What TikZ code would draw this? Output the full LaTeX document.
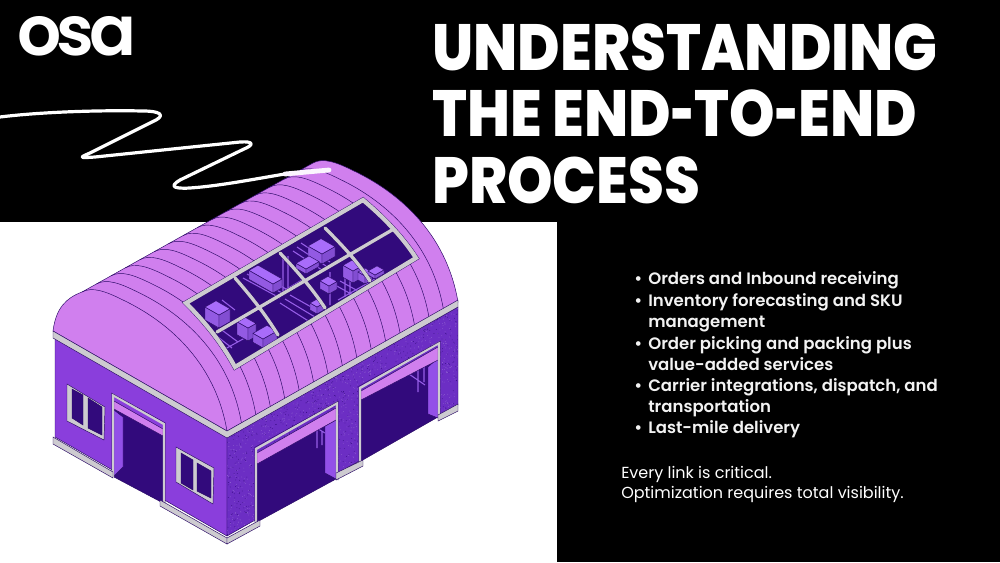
\documentclass[tikz,border=0pt]{standalone}
\usepackage{fontspec}
\usepackage{xcolor}
\setmainfont{Poppins}
\newfontfamily\titlefont{Poppins}[UprightFont=* ExtraBold, FakeStretch=0.886]
\newfontfamily\listfont{Poppins}[UprightFont=* SemiBold]
\newfontfamily\logofont{Poppins}[UprightFont=* SemiBold, LetterSpace=-7]
\definecolor{roofpink}{HTML}{D07FEE}
\definecolor{wallleft}{HTML}{8A3EDC}
\definecolor{wallright}{HTML}{6C2EC4}
\definecolor{inkdark}{HTML}{320A7C}
\definecolor{edgedark}{HTML}{2A0A66}
\definecolor{trimgrey}{HTML}{CDCBD0}
\definecolor{sidewall}{HTML}{9350E8}
\definecolor{crate}{HTML}{A86CFA}
\tikzset{
	outline/.style={draw=edgedark, line width=0.35pt},
	trim/.style={fill=trimgrey, outline},
	glass/.style={fill=inkdark, outline},
	awning/.style={fill=roofpink, outline},
	side/.style={fill=sidewall, outline},
	rafter/.style={draw=edgedark, line width=0.35pt},
	framebar/.style={draw=trimgrey, line width=3.2pt, line cap=round},
	rail/.style={draw=crate!85!inkdark, line width=0.8pt},
	listline/.style={anchor=base west, inner sep=0pt, text=white!95!black, font=\listfont\fontsize{12.4}{15}\selectfont},
	bodyline/.style={anchor=base west, inner sep=0pt, text=white, font=\fontsize{12}{14}\selectfont},
	titleline/.style={anchor=base west, inner sep=0pt, text=white, font=\titlefont\fontsize{49}{50}\selectfont}
}
% one box seen from above: corner, length, depth, height
\newcommand{\crateat}[5]{
	\filldraw [fill=crate!82!inkdark, outline] (#1,#2) -- ++(-#4,-0.57*#4) -- ++(0,-#5) -- ++(#4,0.57*#4) -- cycle;
	\filldraw [fill=crate!68!inkdark, outline] (#1,#2) -- ++(#3,-0.57*#3) -- ++(0,-#5) -- ++(-#3,0.57*#3) -- cycle;
	\filldraw [fill=crate, outline] (#1,#2-#5) -- ++(#3,-0.57*#3) -- ++(-#4,-0.57*#4) -- ++(-#3,0.57*#3) -- cycle;
}
\newcommand{\titlehyphen}{\scalebox{0.7}[1]{-}}
\begin{document}
\begin{tikzpicture}[x=0.75pt, y=-0.75pt]
	\useasboundingbox (0,0) rectangle (1000,562);
	\fill [black] (0,0) rectangle (1000,562);
	\fill [white] (0,222) rectangle (557,562);

	% walls
	\filldraw [fill=wallleft, outline] (55,338) -- (227,437) -- (227,536) -- (55,437) -- cycle;
	\filldraw [fill=wallright, outline] (227,437) -- (458,307) -- (458,405) -- (227,536) -- cycle;
	\begin{scope}
		\clip (227,437) -- (458,307) -- (458,405) -- (227,536) -- cycle;
		\pgfmathsetseed{2024}
		\foreach \n in {1,...,3200} {
			\pgfmathsetmacro{\dotx}{227+231*rnd}
			\pgfmathsetmacro{\doty}{300+240*rnd}
			\fill [wallright!72!white] (\dotx,\doty) circle (0.38);
		}
		\foreach \n in {1,...,1800} {
			\pgfmathsetmacro{\dotx}{227+231*rnd}
			\pgfmathsetmacro{\doty}{300+240*rnd}
			\fill [inkdark] (\dotx,\doty) circle (0.38);
		}
	\end{scope}

	% door on the left wall
	\filldraw [fill=inkdark, outline] (114,402) -- (163,430) -- (163,503) -- (114,477) -- cycle;
	\filldraw [side] (114,410) -- (123,417) -- (123,467) -- (114,476) -- cycle;
	\filldraw [awning] (114,401) -- (163,429) -- (163,436) -- (114,409) -- cycle;
	\draw [trimgrey, line width=1.8pt] (113,477) -- (113,395) -- (164,424) -- (164,503);
	\draw [edgedark, line width=0.3pt] (111.5,477) -- (111.5,393) -- (165.5,423) -- (165.5,503);

	% windows on the left wall
	\filldraw [trim] (67,384) -- (105,407) -- (104,440) -- (67,421) -- cycle;
	\filldraw [glass] (72,389) -- (83,395) -- (83,425) -- (72,418) -- cycle;
	\filldraw [glass] (88,398) -- (102,407) -- (102,435) -- (88,428) -- cycle;
	\filldraw [trim] (176,447) -- (214,468) -- (213,504) -- (176,482) -- cycle;
	\filldraw [glass] (181,453) -- (193,460) -- (193,490) -- (181,483) -- cycle;
	\filldraw [glass] (197,463) -- (211,471) -- (211,498) -- (197,491) -- cycle;

	% doors on the right wall
	\filldraw [fill=inkdark, outline] (257,463) -- (336,420) -- (336,479) -- (257,522) -- cycle;
	\draw [rail] (315,427) -- (325,433) (317,424) -- (317,448) (322,431) -- (322,445);
	\filldraw [side] (325,426) -- (336,420) -- (336,479) -- (325,473) -- cycle;
	\filldraw [awning] (257,453) -- (336,408) -- (336,420) -- (257,464) -- cycle;
	\draw [trimgrey, line width=1.8pt] (256,522) -- (256,449) -- (337,403) -- (337,480);
	\draw [edgedark, line width=0.3pt] (254.5,522) -- (254.5,447.5) -- (338.5,401) -- (338.5,480);

	\filldraw [fill=inkdark, outline] (361,398) -- (438,358) -- (438,417) -- (361,461) -- cycle;
	\draw [rail] (406,372) -- (425,385) (418,366) -- (418,392) (424,364) -- (424,382);
	\filldraw [side] (428,367) -- (438,358) -- (438,418) -- (428,414) -- cycle;
	\filldraw [awning] (361,391) -- (438,347) -- (438,360) -- (361,400) -- cycle;
	\draw [trimgrey, line width=1.8pt] (360,462) -- (360,388) -- (439,343) -- (439,418);
	\draw [edgedark, line width=0.3pt] (358.5,462) -- (358.5,386.5) -- (440.5,341) -- (440.5,418);

	% plinths
	\filldraw [trim] (53,437) -- (113,472) -- (113,478) -- (53,444) -- cycle;
	\filldraw [trim] (160,500) -- (227,538) -- (227,544) -- (160,506) -- cycle;
	\filldraw [trim] (227,538) -- (260,520) -- (260,526) -- (227,544) -- cycle;
	\filldraw [trim] (336,473) -- (363,460) -- (363,466) -- (336,480) -- cycle;
	\filldraw [trim] (438,415) -- (458,404) -- (458,411) -- (438,421) -- cycle;

	% roof
	\filldraw [fill=roofpink, outline] (53,331) .. controls (56,308) and (66,298) .. (82,292)
		-- (313,163) .. controls (323,157.5) and (336,162) .. (354,171)
		.. controls (396,191) and (446,231) .. (458,302)
		-- (227,431) -- (53,331) -- cycle;
	\foreach \i in {0,...,15} {
		\begin{scope}[shift={(14.4375*\i,-8.0625*\i)}]
			\draw [rafter] (82,292) .. controls (92,286.5) and (105,291) .. (123,300)
				.. controls (165,320) and (215,360) .. (227,431);
		\end{scope}
	}

	% skylight
	\filldraw [fill=inkdark] (186,303) -- (363,200) .. controls (382,216) and (402,236) .. (416,258)
		-- (235,367) .. controls (222,343) and (205,322) .. (186,303) -- cycle;
	\begin{scope}
		\clip (186,303) -- (363,200) .. controls (382,216) and (402,236) .. (416,258)
			-- (235,367) .. controls (222,343) and (205,322) .. (186,303) -- cycle;
		\draw [rail] (243,278) -- (280,298) (247,274) -- (284,294) (251,270) -- (288,290)
			(293,251) -- (322,270) (297,247) -- (326,266) (301,243) -- (330,262)
			(280,303) -- (310,322) (285,299) -- (315,317) (290,295) -- (320,312)
			(335,285) -- (362,300) (340,281) -- (367,296)
			(197,330) -- (224,352) (204,326) -- (232,348) (211,322) -- (238,342)
			(222,300) -- (235,310) (216,354) -- (252,334) (285,290) -- (302,280)
			(338,300) -- (382,275) (283,258) -- (283,292) (288,256) -- (288,292)
			(330,272) -- (330,305) (345,270) -- (345,297) (350,268) -- (350,296);
		\crateat{219}{328}{11}{14}{13}
		\crateat{248}{341}{8}{11}{13}
		\crateat{263}{348}{14}{10}{9}
		\crateat{273}{293}{9}{24}{9}
		\crateat{322}{264}{13}{14}{10}
		\crateat{329}{294}{8}{9}{8}
		\crateat{353}{283}{9}{10}{12}
		\crateat{365}{284}{7}{7}{8}
		\crateat{317}{314}{7}{7}{7}
		\crateat{306}{274}{13}{10}{5}
		\crateat{375}{279}{9}{7}{4}
	\end{scope}
	\draw [framebar, draw=edgedark, line width=3.8pt]
		(186,303) -- (363,200) .. controls (382,216) and (402,236) .. (416,258)
		-- (235,367) .. controls (222,343) and (205,322) .. (186,303) -- cycle;
	\draw [framebar, draw=edgedark, line width=3pt]
		(217,332) -- (392,230)
		(235,278) .. controls (250,295) and (266,315) .. (278,335)
		(280,253) .. controls (296,270) and (312,288) .. (325,308)
		(325,228) .. controls (342,245) and (358,262) .. (370,281);
	\draw [framebar]
		(186,303) -- (363,200) .. controls (382,216) and (402,236) .. (416,258)
		-- (235,367) .. controls (222,343) and (205,322) .. (186,303) -- cycle;
	\draw [framebar, line width=2.5pt]
		(217,332) -- (392,230)
		(235,278) .. controls (250,295) and (266,315) .. (278,335)
		(280,253) .. controls (296,270) and (312,288) .. (325,308)
		(325,228) .. controls (342,245) and (358,262) .. (370,281);

	% eaves
	\filldraw [trim] (53,331) -- (227,431) -- (458,300) -- (458,307) -- (227,438) -- (53,338) -- cycle;

	% swoosh
	\draw [white, line width=2.4pt, line cap=round, line join=round]
		(0,117) .. controls (40,112) and (100,110) .. (143,111)
		.. controls (160,111) and (165,115) .. (156,120)
		-- (90,153) .. controls (78,158) and (80,158) .. (95,157)
		-- (240,142) .. controls (254,141) and (254,145) .. (244,149)
		-- (180,180) .. controls (170,186) and (172,189) .. (190,188)
		.. controls (220,186) and (260,178) .. (285,174);
	\draw [white!92!roofpink, line width=3.6pt, line cap=round] (285,174) -- (329,170);

	% text
	\node [inner sep=0pt, anchor=base west, text=white, font=\logofont\fontsize{52}{52}\selectfont] (logo) at (17,55) {osa};
	\node [titleline] (title1) at (432,70.5) {UNDERSTANDING};
	\node [titleline] (title2) at (432,136.5) {THE END\titlehyphen TO\titlehyphen END};
	\node [titleline] (title3) at (432,203) {PROCESS};

	\node [listline] (bull1) at (634,284) {•};
	\node [listline] (bull2) at (634,306) {•};
	\node [listline] (bull3) at (634,349) {•};
	\node [listline] (bull4) at (634,391) {•};
	\node [listline] (bull5) at (634,433) {•};
	\node [listline] (item1) at (648,284) {Orders and Inbound receiving};
	\node [listline] (item2) at (648,306) {Inventory forecasting and SKU};
	\node [listline] (item2b) at (648,327) {management};
	\node [listline] (item3) at (648,349) {Order picking and packing plus};
	\node [listline] (item3b) at (648,370) {value-added services};
	\node [listline] (item4) at (648,391) {Carrier integrations, dispatch, and};
	\node [listline] (item4b) at (648,412) {transportation};
	\node [listline] (item5) at (648,433) {Last-mile delivery};

	\node [bodyline] (note1) at (621,478) {Every link is critical.};
	\node [bodyline] (note2) at (621,498) {Optimization requires total visibility.};
\end{tikzpicture}
\end{document}
